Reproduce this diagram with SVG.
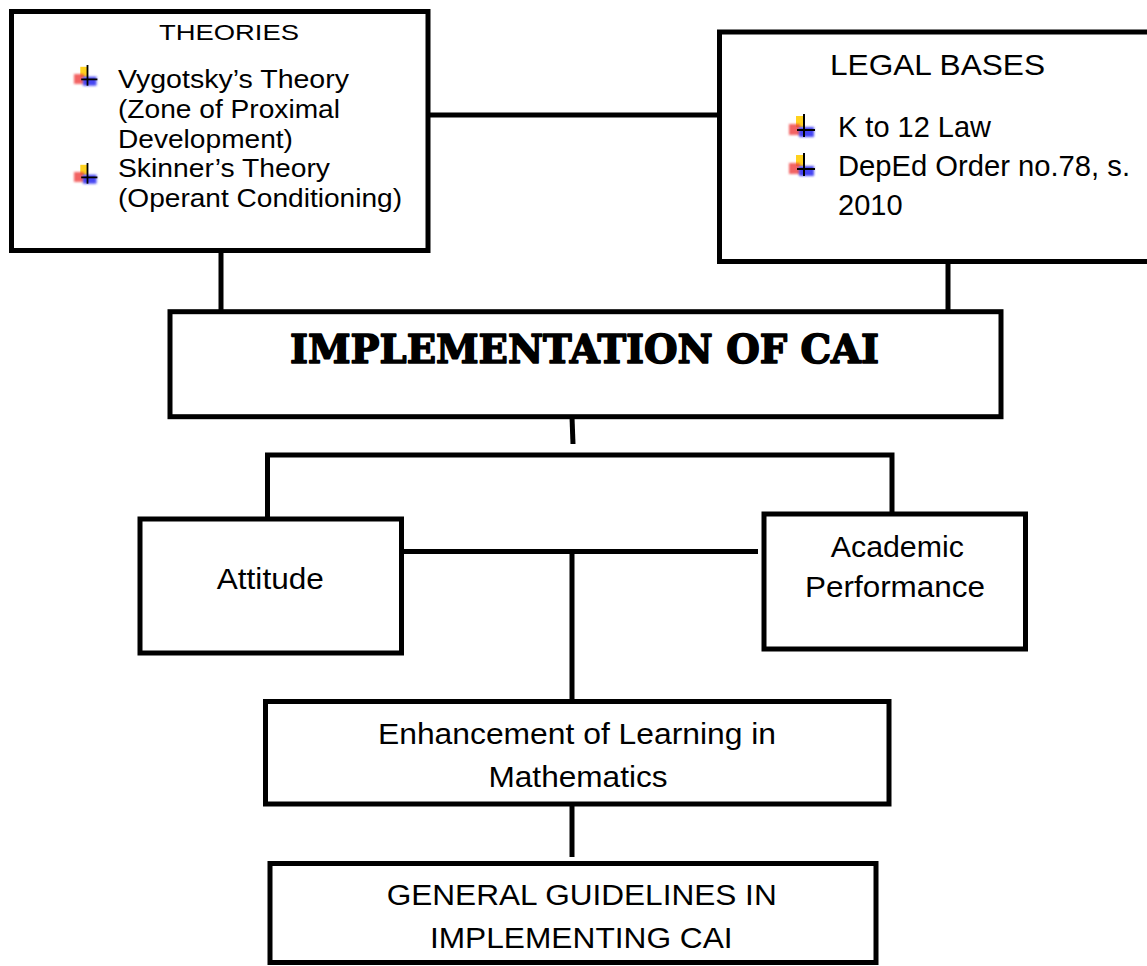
<svg xmlns="http://www.w3.org/2000/svg" width="1147" height="966" viewBox="0 0 1147 966">
<style>
.box{fill:#fff;stroke:#000;stroke-width:5}
.ln{stroke:#000;stroke-width:5;fill:none}
.t{font-family:"Liberation Sans",Arial,sans-serif;fill:#000}
.c{text-anchor:middle}
.title{font-family:"DejaVu Serif","Liberation Serif",serif;font-weight:900;fill:#000;stroke:#000;stroke-width:1.6;stroke-linejoin:round;text-anchor:middle}
</style>
<defs>
<filter id="bl" x="-50%" y="-50%" width="200%" height="200%"><feGaussianBlur stdDeviation="1.2"/></filter>
<g id="bul">
<rect x="7" y="2" width="8" height="11" fill="#FFD21E"/>
<rect x="0" y="10" width="11" height="11" fill="#F03C3C" opacity="0.8" filter="url(#bl)"/>
<rect x="10" y="13" width="15" height="10" fill="#2828F0" opacity="0.85" filter="url(#bl)"/>
<line x1="15" y1="0" x2="15" y2="23" stroke="#000" stroke-width="2"/>
<line x1="8" y1="16" x2="26" y2="16" stroke="#000" stroke-width="2"/>
</g>
</defs>

<g id="connectors">
<line class="ln" x1="428" y1="115" x2="719" y2="115"/>
<line class="ln" x1="221" y1="250" x2="221" y2="312"/>
<line class="ln" x1="948" y1="261" x2="948" y2="312"/>
<line class="ln" x1="572" y1="417" x2="573" y2="444"/>
<polyline class="ln" points="267.5,519 267.5,455 892,455 892,514"/>
<line class="ln" x1="401" y1="551.5" x2="758" y2="551.5"/>
<line class="ln" x1="572" y1="551.5" x2="572" y2="702"/>
<line class="ln" x1="572" y1="804" x2="572" y2="857"/>
</g>

<g id="theories">
<rect class="box" x="11.5" y="11.5" width="416.5" height="239"/>
<text class="t c" x="229" y="40" font-size="22" textLength="140" lengthAdjust="spacingAndGlyphs">THEORIES</text>
<use href="#bul" transform="translate(74,65) scale(0.9)"/>
<use href="#bul" transform="translate(74,163) scale(0.9)"/>
<text class="t" x="118" y="87.5" font-size="25" textLength="231" lengthAdjust="spacingAndGlyphs">Vygotsky’s Theory</text>
<text class="t" x="118" y="117.5" font-size="25" textLength="222" lengthAdjust="spacingAndGlyphs">(Zone of Proximal</text>
<text class="t" x="118" y="148" font-size="25" textLength="175" lengthAdjust="spacingAndGlyphs">Development)</text>
<text class="t" x="118" y="177" font-size="25" textLength="212" lengthAdjust="spacingAndGlyphs">Skinner’s Theory</text>
<text class="t" x="118" y="207" font-size="25" textLength="284" lengthAdjust="spacingAndGlyphs">(Operant Conditioning)</text>
</g>

<g id="legal">
<rect class="box" x="719.5" y="32" width="440" height="229.5"/>
<text class="t c" x="937.5" y="75" font-size="30" textLength="215" lengthAdjust="spacingAndGlyphs">LEGAL BASES</text>
<use href="#bul" transform="translate(789,114)"/>
<use href="#bul" transform="translate(789,153)"/>
<text class="t" x="838" y="137" font-size="29" textLength="153" lengthAdjust="spacingAndGlyphs">K to 12 Law</text>
<text class="t" x="838" y="176" font-size="29" textLength="292" lengthAdjust="spacingAndGlyphs">DepEd Order no.78, s.</text>
<text class="t" x="838" y="215" font-size="29">2010</text>
</g>

<g id="implementation">
<rect class="box" x="170" y="311.7" width="831" height="105"/>
<text class="title" x="584.5" y="362.7" font-size="40" textLength="589" lengthAdjust="spacingAndGlyphs">IMPLEMENTATION OF CAI</text>
</g>

<g id="attitude">
<rect class="box" x="140" y="519" width="261.5" height="134"/>
<text class="t c" x="270.3" y="589" font-size="30" textLength="107" lengthAdjust="spacingAndGlyphs">Attitude</text>
</g>

<g id="academic">
<rect class="box" x="764" y="514" width="261.5" height="135"/>
<text class="t c" x="897.3" y="557" font-size="29" textLength="133" lengthAdjust="spacingAndGlyphs">Academic</text>
<text class="t c" x="895" y="596.7" font-size="29" textLength="180" lengthAdjust="spacingAndGlyphs">Performance</text>
</g>

<g id="enhancement">
<rect class="box" x="265.5" y="701.5" width="623.5" height="102.5"/>
<text class="t c" x="577" y="744.3" font-size="30" textLength="398" lengthAdjust="spacingAndGlyphs">Enhancement of Learning in</text>
<text class="t c" x="578" y="786.7" font-size="30" textLength="179" lengthAdjust="spacingAndGlyphs">Mathematics</text>
</g>

<g id="guidelines">
<rect class="box" x="270" y="863.5" width="606" height="99"/>
<text class="t c" x="581.7" y="905" font-size="29.5" textLength="390" lengthAdjust="spacingAndGlyphs">GENERAL GUIDELINES IN</text>
<text class="t c" x="581.3" y="948.3" font-size="29.5" textLength="302.7" lengthAdjust="spacingAndGlyphs">IMPLEMENTING CAI</text>
</g>
</svg>
